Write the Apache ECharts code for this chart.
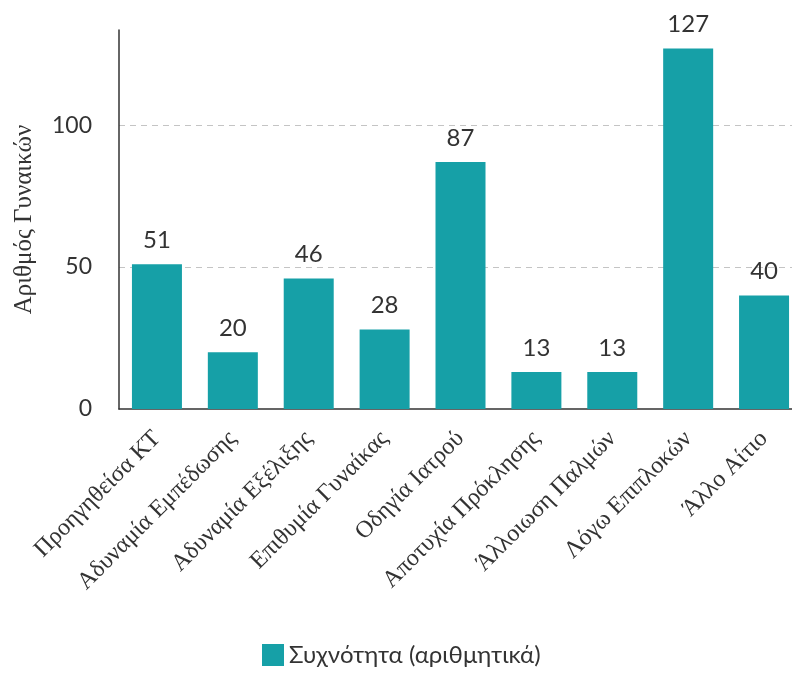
<!DOCTYPE html>
<html>
<head>
<meta charset="utf-8">
<script src="https://cdn.jsdelivr.net/npm/echarts@6/dist/echarts.min.js"></script>
<style>
  html, body { margin: 0; padding: 0; background: #fff; overflow: hidden; }
  #chart { width: 812px; height: 675px; }
</style>
</head>
<body>
<div id="chart"></div>
<script>
// Reasons for induction of labour and how many women fell under each
const categories = [
  'Προηγηθείσα ΚΤ',
  'Αδυναμία Εμπέδωσης',
  'Αδυναμία Εξέλιξης',
  'Επιθυμία Γυναίκας',
  'Οδηγία Ιατρού',
  'Αποτυχία Πρόκλησης',
  'Άλλοιωση Παλμών',
  'Λόγω Επιπλοκών',
  'Άλλο Αίτιο'
];
const counts = [51, 20, 46, 28, 87, 13, 13, 127, 40];
const seriesName = 'Συχνότητα (αριθμητικά)';
const yAxisTitle = 'Αριθμός Γυναικών';

const barColor = '#16a0a7';
const sansFont = 'Lato, "Open Sans", sans-serif';
const serifFont = '"Liberation Serif", "DejaVu Serif", serif';

const chart = echarts.init(document.getElementById('chart'));
chart.setOption({
  animation: false,
  backgroundColor: '#ffffff',
  grid: { left: 119, right: 10, top: 30, bottom: 266, containLabel: false },
  legend: {
    data: [seriesName],
    bottom: 3,
    left: 257,
    itemWidth: 22,
    itemHeight: 22,
    itemGap: 8,
    textStyle: { fontFamily: sansFont, fontSize: 24, color: '#333' },
    icon: 'rect'
  },
  xAxis: {
    type: 'category',
    data: categories,
    axisLine: { lineStyle: { color: '#333', width: 1.5 } },
    axisTick: { show: false },
    axisLabel: {
      rotate: 45,
      interval: 0,
      margin: 26,
      fontFamily: serifFont,
      fontSize: 24,
      color: '#333'
    }
  },
  yAxis: {
    type: 'value',
    min: 0,
    max: 133.5,
    interval: 50,
    name: yAxisTitle,
    nameLocation: 'middle',
    nameGap: 82,
    nameTextStyle: { fontFamily: serifFont, fontSize: 25, color: '#333' },
    axisLine: { show: true, lineStyle: { color: '#333', width: 1.5 } },
    axisTick: { show: false },
    axisLabel: {
      margin: 27,
      fontFamily: sansFont,
      fontSize: 23,
      color: '#333',
      formatter: v => (v % 50 === 0 ? String(v) : '')
    },
    splitLine: {
      show: true,
      lineStyle: {
        type: [6, 5],
        width: 1.2,
        color: ['transparent', '#c4c4c4', '#c4c4c4', 'transparent']
      }
    }
  },
  series: [{
    name: seriesName,
    type: 'bar',
    data: counts,
    barWidth: 50,
    itemStyle: { color: barColor },
    label: {
      show: true,
      position: 'top',
      distance: 12,
      fontFamily: sansFont,
      fontSize: 24,
      color: '#333'
    }
  }]
});
</script>
</body>
</html>
